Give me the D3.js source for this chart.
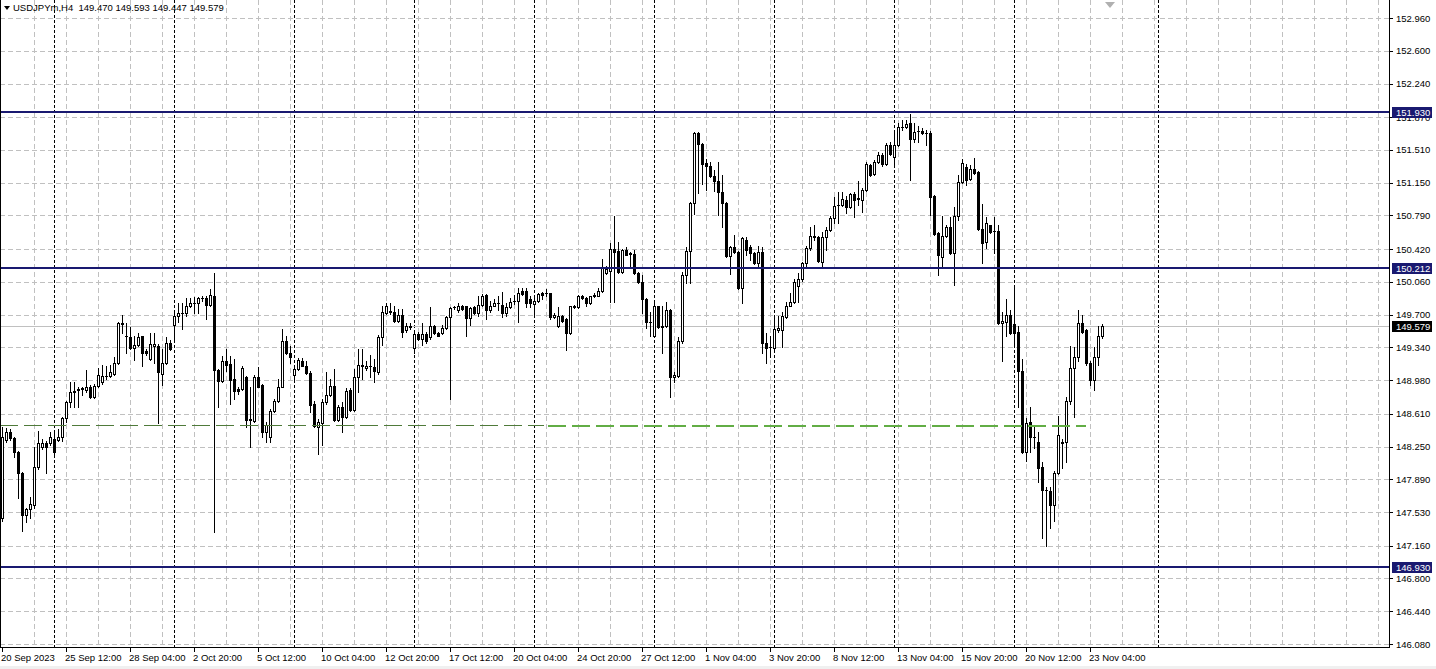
<!DOCTYPE html>
<html><head><meta charset="utf-8">
<script src="https://cdn.jsdelivr.net/npm/d3@7"></script>
<style>
body{margin:0;background:#fff;overflow:hidden}
svg{display:block}
text{font-family:"Liberation Sans",Arial,sans-serif;font-size:9.5px;fill:#000}
</style></head>
<body><svg id="chart" width="1436" height="669"></svg>
<script>
const symbol = "USDJPYm,H4";
const headerValues = ["149.470","149.593","149.447","149.579"];

const open = [147.47,148.32,148.41,148.34,148.19,147.96,147.50,147.56,147.61,148.02,148.25,148.29,148.29,148.33,148.32,148.35,148.56,148.74,148.85,148.87,
148.88,148.87,148.91,148.79,148.92,148.96,149.03,149.02,149.05,149.17,149.61,149.47,149.45,149.33,149.37,149.46,149.30,149.21,149.36,149.36,
149.05,149.17,149.39,149.59,149.68,149.72,149.72,149.80,149.83,149.83,149.88,149.88,149.81,149.91,149.09,148.97,149.19,149.16,148.99,148.88,
148.88,149.01,148.55,148.53,149.01,148.93,148.41,148.35,148.64,148.75,148.91,149.41,149.28,149.04,149.10,149.19,149.14,149.06,148.72,148.47,
148.51,148.74,148.82,148.92,148.54,148.69,148.57,148.87,148.65,149.01,149.15,149.11,149.13,149.12,149.07,149.45,149.72,149.74,149.73,149.63,
149.70,149.53,149.57,149.33,149.49,149.43,149.49,149.45,149.58,149.50,149.50,149.55,149.67,149.78,149.75,149.80,149.79,149.66,149.78,149.72,
149.81,149.92,149.75,149.80,149.83,149.81,149.72,149.78,149.85,149.85,149.96,149.96,149.87,149.82,149.85,149.94,149.94,149.94,149.67,149.58,
149.68,149.65,149.50,149.78,149.78,149.91,149.88,149.83,149.90,149.91,149.96,150.16,150.18,150.42,150.40,150.17,150.41,150.38,150.37,150.16,
150.06,149.87,149.62,149.46,149.79,149.57,149.57,149.75,149.01,149.02,149.41,150.14,150.40,150.93,151.70,151.57,151.37,151.33,151.22,151.17,
151.05,150.93,150.34,150.44,150.39,149.99,150.52,150.44,150.38,150.27,150.39,149.39,149.34,149.33,149.53,149.53,149.67,149.80,149.84,150.01,
150.09,150.27,150.43,150.56,150.55,150.28,150.55,150.63,150.76,150.90,150.90,150.96,150.88,151.03,150.97,150.96,151.07,151.34,151.25,151.38,
151.45,151.35,151.56,151.43,151.56,151.76,151.76,151.81,151.63,151.72,151.72,151.70,151.70,151.00,150.60,150.33,150.56,150.66,150.38,150.78,
151.16,151.32,151.19,151.30,151.27,150.64,150.50,150.68,150.62,150.62,149.61,149.62,149.70,149.60,149.51,149.08,148.19,148.52,148.35,148.30,
148.02,147.77,147.76,147.61,147.96,148.30,148.30,148.75,149.11,149.23,149.61,149.53,149.17,148.98,149.23,149.470];

const high = [148.46,148.45,148.44,148.36,148.20,147.97,147.58,147.70,148.25,148.42,148.33,148.31,148.41,148.41,148.44,148.58,148.75,148.96,148.96,148.91,
148.91,149.09,148.93,148.94,149.11,149.15,149.13,149.15,149.23,149.62,149.70,149.61,149.56,149.46,149.50,149.47,149.32,149.50,149.50,149.38,
149.32,149.45,149.42,149.73,149.83,149.83,149.88,149.88,149.89,149.89,149.90,149.90,149.98,150.16,149.10,149.24,149.32,149.25,149.21,148.90,
149.13,149.03,148.91,149.04,149.12,148.94,148.52,148.66,148.77,148.99,149.54,149.46,149.35,149.15,149.22,149.22,149.19,149.08,148.75,148.55,
148.77,149.07,148.99,149.10,148.71,148.74,148.89,148.89,149.10,149.32,149.32,149.19,149.26,149.21,149.48,149.79,149.83,149.83,149.79,149.76,
149.76,149.61,149.61,149.51,149.51,149.61,149.51,149.78,149.59,149.51,149.59,149.68,149.78,149.80,149.83,149.81,149.80,149.78,149.79,149.90,
149.93,149.93,149.85,149.87,149.90,149.95,149.83,149.88,149.92,149.99,149.99,149.99,149.90,149.89,149.94,149.95,149.98,149.94,149.72,149.78,
149.70,149.66,149.79,149.81,149.92,149.92,149.89,149.91,149.94,149.99,150.31,150.23,150.49,150.78,150.50,150.42,150.44,150.39,150.41,150.17,
150.14,149.88,149.73,149.83,149.79,149.79,149.84,149.76,149.07,149.45,150.17,150.44,150.94,151.71,151.71,151.59,151.41,151.38,151.29,151.38,
151.24,150.94,150.45,150.58,150.40,150.55,150.55,150.47,150.39,150.45,150.44,149.50,149.46,149.66,149.68,149.73,149.84,149.94,150.09,150.16,
150.28,150.45,150.66,150.69,150.56,150.61,150.66,150.78,150.99,151.05,151.05,151.00,151.04,151.05,151.17,151.09,151.38,151.35,151.40,151.49,
151.48,151.59,151.60,151.70,151.81,151.84,151.84,151.91,151.81,151.77,151.75,151.73,151.72,151.01,150.61,150.78,150.69,150.77,150.88,151.24,
151.41,151.35,151.34,151.42,151.28,150.92,150.77,150.69,150.77,150.69,149.73,149.87,149.75,149.99,149.57,149.21,148.56,148.68,148.47,148.41,
148.08,147.81,147.81,147.98,148.59,148.33,148.80,149.35,149.34,149.75,149.70,149.54,149.19,149.34,149.57,149.593];

const low = [147.43,148.30,148.32,148.14,147.68,147.32,147.42,147.47,147.58,148.00,148.22,147.96,148.27,148.14,148.31,148.31,148.52,148.69,148.69,148.69,
148.82,148.85,148.78,148.78,148.91,148.94,148.99,149.01,149.04,149.16,149.50,149.28,149.32,149.20,149.36,149.13,149.26,149.20,149.17,148.51,
148.93,149.16,149.31,149.41,149.62,149.54,149.68,149.78,149.72,149.72,149.85,149.65,149.80,147.31,148.69,148.96,149.08,148.72,148.77,148.83,
148.87,148.47,148.25,148.52,148.90,148.36,148.30,148.30,148.63,148.74,148.90,149.27,149.17,148.97,149.09,149.13,149.05,148.63,148.46,148.17,
148.27,148.72,148.81,148.53,148.53,148.41,148.56,148.64,148.64,148.85,148.99,149.09,149.01,148.96,149.05,149.37,149.71,149.71,149.62,149.62,
149.45,149.51,149.54,149.28,149.42,149.37,149.39,149.43,149.49,149.46,149.49,149.54,148.77,149.76,149.73,149.75,149.47,149.59,149.71,149.68,
149.80,149.65,149.73,149.79,149.75,149.67,149.69,149.77,149.82,149.62,149.92,149.78,149.78,149.68,149.84,149.87,149.91,149.65,149.66,149.56,
149.62,149.31,149.49,149.77,149.77,149.87,149.79,149.82,149.89,149.90,149.95,150.15,149.84,149.84,150.16,150.16,150.35,150.23,150.15,150.05,
149.72,149.55,149.46,149.45,149.55,149.28,149.56,148.80,148.96,149.01,149.39,150.05,150.05,150.81,151.04,151.14,151.07,151.21,151.06,150.80,
150.66,150.33,150.15,150.38,149.98,149.83,150.36,150.30,150.26,150.23,149.28,149.17,149.23,149.32,149.51,149.34,149.66,149.79,149.83,149.84,
150.07,150.23,150.41,150.52,150.28,150.23,150.41,150.62,150.71,150.71,150.89,150.82,150.87,150.77,150.91,150.83,151.06,151.22,151.24,151.37,
151.33,151.34,151.45,151.35,151.55,151.73,151.75,151.18,151.60,151.60,151.69,151.56,150.79,150.58,150.14,150.21,150.55,150.37,150.03,150.74,
151.15,151.12,151.18,151.25,150.63,150.27,150.43,150.60,150.38,149.60,149.19,149.47,149.49,149.35,148.69,148.18,148.09,148.19,148.23,147.86,
147.25,147.16,147.36,147.43,147.95,148.01,148.08,148.72,148.58,149.19,149.50,149.15,148.93,148.87,149.15,149.447];

const close = [148.35,148.41,148.34,148.19,147.96,147.50,147.56,147.62,148.02,148.29,148.29,148.25,148.35,148.19,148.35,148.56,148.74,148.85,148.86,148.88,
148.89,148.91,148.79,148.92,149.04,149.03,149.02,149.07,149.17,149.61,149.60,149.46,149.33,149.37,149.45,149.28,149.28,149.38,149.38,149.07,
149.17,149.39,149.32,149.68,149.72,149.72,149.80,149.83,149.83,149.88,149.88,149.81,149.92,149.09,148.97,149.19,149.15,148.98,148.86,148.86,
149.11,148.54,148.54,149.01,148.91,148.41,148.49,148.64,148.75,148.91,149.41,149.28,149.23,149.10,149.20,149.14,149.06,148.71,148.48,148.52,
148.74,148.82,148.92,148.54,148.69,148.57,148.86,148.65,149.01,149.15,149.14,149.14,149.13,149.08,149.45,149.73,149.79,149.73,149.63,149.70,
149.51,149.57,149.56,149.49,149.43,149.49,149.41,149.58,149.50,149.47,149.55,149.67,149.77,149.78,149.80,149.76,149.66,149.77,149.72,149.81,
149.90,149.75,149.80,149.83,149.83,149.72,149.78,149.84,149.85,149.94,149.93,149.83,149.83,149.85,149.93,149.92,149.94,149.67,149.70,149.68,
149.63,149.50,149.79,149.80,149.91,149.88,149.83,149.90,149.92,149.96,150.22,150.20,150.42,150.39,150.17,150.41,150.36,150.37,150.16,150.06,
149.87,149.62,149.62,149.79,149.56,149.56,149.75,149.01,149.04,149.41,150.14,150.40,150.93,151.70,151.58,151.36,151.33,151.22,151.17,151.05,
150.93,150.34,150.44,150.39,149.99,150.54,150.41,150.38,150.27,150.39,149.39,149.33,149.34,149.54,149.55,149.68,149.80,149.84,150.06,150.09,
150.27,150.43,150.56,150.55,150.29,150.55,150.63,150.76,150.89,150.90,150.97,150.88,151.03,150.96,150.98,151.07,151.35,151.24,151.38,151.45,
151.35,151.56,151.46,151.56,151.76,151.76,151.80,151.63,151.71,151.72,151.70,151.70,150.99,150.59,150.36,150.56,150.66,150.38,150.78,151.16,
151.37,151.18,151.30,151.26,150.64,150.49,150.71,150.61,150.62,149.61,149.63,149.70,149.50,149.50,149.08,148.19,148.51,148.35,148.35,148.01,
147.77,147.77,147.61,147.96,148.38,148.29,148.75,149.11,149.23,149.61,149.51,149.17,148.98,149.23,149.47,149.579];

const xLabels = ["20 Sep 2023","25 Sep 12:00","28 Sep 04:00","2 Oct 20:00","5 Oct 12:00","10 Oct 04:00","12 Oct 20:00","17 Oct 12:00","20 Oct 04:00",
"24 Oct 20:00","27 Oct 12:00","1 Nov 04:00","3 Nov 20:00","8 Nov 12:00","13 Nov 04:00","15 Nov 20:00","20 Nov 12:00","23 Nov 04:00"];
const xLabelBars = [0,16,32,48,64,80,96,112,128,144,160,176,192,208,224,240,256,272];
const separatorBars = [13,43,73,103,133,163,193,223,253,289];
const yTickLabels = ["152.960","152.600","152.240","151.870","151.510","151.150","150.790","150.420","150.060","149.700",
"149.340","148.980","148.610","148.250","147.890","147.530","147.160","146.800","146.440","146.080"];
const levelPrices = [151.930,150.212,146.930];
const levelLabels = ["151.930","150.212","146.930"];
const currentPrice = 149.579;
const currentLabel = "149.579";
const trendPrice = 148.49;
const trendSegments = [[-0.5, 135.6], [136.4, 271]];
const trendColors = ["#4f7a3a", "#62ad45"];
const trendWidths = [1, 2];

const W = 1436, H = 669, plotRight = 1389, plotBottom = 648;
const svg = d3.select("#chart");
const x = d3.scaleLinear().domain([0, 346.75]).range([2, plotRight]);
const y = d3.scaleLinear().domain([146.08, 152.96]).range([644, 18]);

svg.append("rect").attr("width", W).attr("height", H).attr("fill", "#fff");
svg.append("rect").attr("x",0).attr("y",666).attr("width",W).attr("height",3).attr("fill","#f0f0f0");

const defs = svg.append("defs");
defs.append("clipPath").attr("id","plot").append("rect").attr("x",0).attr("y",0).attr("width",plotRight).attr("height",plotBottom);
const plot = svg.append("g").attr("clip-path","url(#plot)").attr("shape-rendering","crispEdges");

// horizontal grid
plot.append("g").selectAll("line").data(yTickLabels).join("line")
  .attr("x1",0).attr("x2",plotRight)
  .attr("y1",d=>Math.round(y(+d))+0.5).attr("y2",d=>Math.round(y(+d))+0.5)
  .attr("stroke","#c0c0c0").attr("stroke-dasharray","5,3");
// vertical grid every 8 bars
const vBars = d3.range(8, 347, 8);
plot.append("g").selectAll("line").data(vBars).join("line")
  .attr("x1",d=>Math.round(x(d))+0.5).attr("x2",d=>Math.round(x(d))+0.5)
  .attr("y1",0).attr("y2",plotBottom)
  .attr("stroke","#c0c0c0").attr("stroke-dasharray","5,3");
// period separators
plot.append("g").selectAll("line").data(separatorBars).join("line")
  .attr("x1",d=>Math.round(x(d))+0.5).attr("x2",d=>Math.round(x(d))+0.5)
  .attr("y1",0).attr("y2",plotBottom)
  .attr("stroke","#000").attr("stroke-dasharray","3,2");
// current price line
plot.append("line").attr("x1",0).attr("x2",plotRight)
  .attr("y1",Math.round(y(currentPrice))+0.5).attr("y2",Math.round(y(currentPrice))+0.5)
  .attr("stroke","#c0c0c0");

// candles
const bars = d3.range(open.length).map(i=>({i,o:open[i],h:high[i],l:low[i],c:close[i]}));
const cg = plot.append("g");
cg.selectAll("line.wick").data(bars).join("line").attr("class","wick")
  .attr("x1",d=>Math.round(x(d.i))+0.5).attr("x2",d=>Math.round(x(d.i))+0.5)
  .attr("y1",d=>Math.round(y(d.h))).attr("y2",d=>Math.round(y(d.l))+1)
  .attr("stroke","#000");
bars.forEach(d=>{
  const cx = Math.round(x(d.i));
  const top = Math.round(y(Math.max(d.o,d.c)));
  const bot = Math.round(y(Math.min(d.o,d.c)));
  if (bot - top < 2) {
    cg.append("rect").attr("x",cx-1).attr("y",top).attr("width",3).attr("height",bot-top+1).attr("fill","#000");
  } else if (d.c >= d.o) {
    cg.append("rect").attr("x",cx-0.5).attr("y",top+0.5).attr("width",2).attr("height",bot-top)
      .attr("fill","#fff").attr("stroke","#000");
  } else {
    cg.append("rect").attr("x",cx-1).attr("y",top).attr("width",3).attr("height",bot-top+1).attr("fill","#000");
  }
});

// level lines
plot.append("g").selectAll("line").data(levelPrices).join("line")
  .attr("x1",0).attr("x2",plotRight)
  .attr("y1",d=>Math.round(y(d))).attr("y2",d=>Math.round(y(d)))
  .attr("stroke","#191970").attr("stroke-width",2);
// dashed trend line
plot.append("g").selectAll("line").data(trendSegments).join("line")
  .attr("x1",d=>x(d[0])).attr("x2",d=>x(d[1]))
  .attr("y1",(d,k)=>Math.round(y(trendPrice))+(trendWidths[k]===1?0.5:1))
  .attr("y2",(d,k)=>Math.round(y(trendPrice))+(trendWidths[k]===1?0.5:1))
  .attr("stroke",(d,k)=>trendColors[k]).attr("stroke-width",(d,k)=>trendWidths[k])
  .attr("stroke-dasharray","18,6");

// chart shift marker
svg.append("path").attr("d","M1105,2L1115,2L1110,8Z").attr("fill","#b0b0b0");

// frame / axes
const ax = svg.append("g").attr("shape-rendering","crispEdges");
ax.append("line").attr("x1",0.5).attr("x2",0.5).attr("y1",0).attr("y2",plotBottom).attr("stroke","#000");
ax.append("line").attr("x1",plotRight+0.5).attr("x2",plotRight+0.5).attr("y1",0).attr("y2",plotBottom).attr("stroke","#000");
ax.append("line").attr("x1",0).attr("x2",plotRight+1).attr("y1",plotBottom-0.5).attr("y2",plotBottom-0.5).attr("stroke","#000");

// y axis labels
const yl = svg.append("g");
yl.selectAll("line").data(yTickLabels).join("line")
  .attr("x1",plotRight).attr("x2",plotRight+4)
  .attr("y1",d=>Math.round(y(+d))+0.5).attr("y2",d=>Math.round(y(+d))+0.5)
  .attr("stroke","#000").attr("shape-rendering","crispEdges");
yl.selectAll("text").data(yTickLabels).join("text")
  .attr("x",plotRight+7).attr("y",d=>y(+d)+3.5).text(d=>d);

// level tags
const tags = levelPrices.map((p,k)=>({p,label:levelLabels[k],bg:"#191970"}))
  .concat([{p:currentPrice,label:currentLabel,bg:"#000"}]);
const tg = svg.append("g");
tg.selectAll("rect").data(tags).join("rect")
  .attr("x",plotRight+3).attr("y",d=>Math.round(y(d.p))-5).attr("width",40).attr("height",11)
  .attr("fill",d=>d.bg).attr("shape-rendering","crispEdges");
tg.selectAll("text").data(tags).join("text")
  .attr("x",plotRight+7).attr("y",d=>Math.round(y(d.p))+4).text(d=>d.label).style("fill","#fff");

// x axis labels
const xl = svg.append("g");
xl.selectAll("line").data(xLabelBars).join("line")
  .attr("x1",d=>Math.round(x(d))+0.5).attr("x2",d=>Math.round(x(d))+0.5)
  .attr("y1",plotBottom).attr("y2",plotBottom+4).attr("stroke","#000").attr("shape-rendering","crispEdges");
xl.selectAll("text").data(xLabelBars).join("text")
  .attr("x",d=>Math.round(x(d))-1).attr("y",661).text((d,k)=>xLabels[k]);

// header
svg.append("path").attr("d","M4,6L10,6L7,10Z").attr("fill","#000");
svg.append("text").attr("x",13).attr("y",11).attr("xml:space","preserve")
  .text(symbol + "  " + headerValues.join(" "));
</script>
</body></html>
